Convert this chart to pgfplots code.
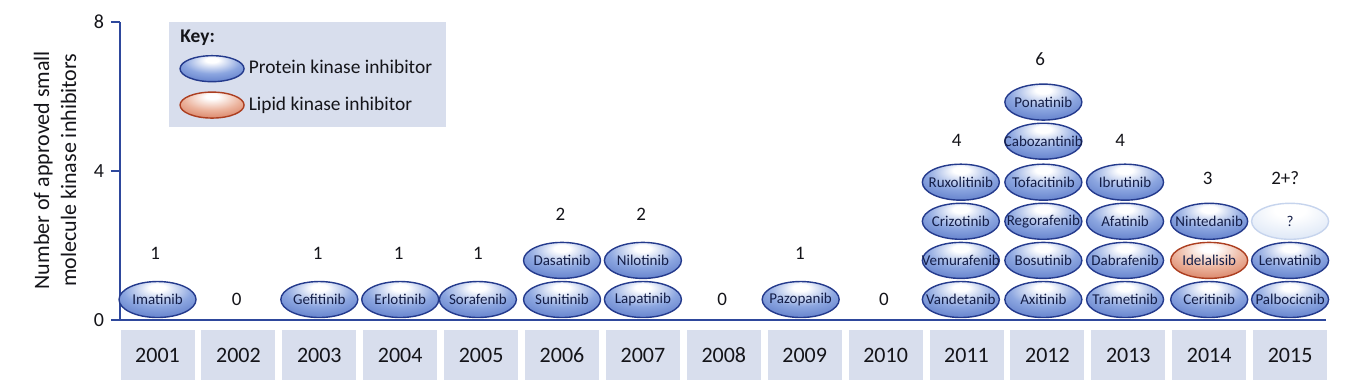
\documentclass[border=0pt]{standalone}
\usepackage{pgfplots}
\pgfplotsset{compat=1.18}
\usepackage{fontspec}
\setmainfont{Carlito}
\usetikzlibrary{shapes.geometric}
\definecolor{keybg}{RGB}{216,222,237}
\definecolor{axblue}{RGB}{46,72,156}
\definecolor{pkmid}{RGB}{140,166,224}
\definecolor{pkedge}{RGB}{68,100,188}
\definecolor{pkdark}{RGB}{44,70,160}
\definecolor{pkborder}{RGB}{36,58,140}
\definecolor{lkmid}{RGB}{236,180,158}
\definecolor{lkedge}{RGB}{204,96,62}
\definecolor{lkdark}{RGB}{184,72,40}
\definecolor{lkborder}{RGB}{172,62,32}
\definecolor{qmid}{RGB}{228,236,248}
\definecolor{qedge}{RGB}{205,219,242}
\definecolor{qborder}{RGB}{198,212,237}
\definecolor{navy}{RGB}{20,30,72}
\definecolor{txt}{RGB}{20,20,25}
\pgfdeclareradialshading{pkshade}{\pgfpoint{0bp}{18bp}}{color(0bp)=(white); color(5bp)=(white); color(22bp)=(pkmid); color(46bp)=(pkedge); color(72bp)=(pkdark)}
\pgfdeclareradialshading{lkshade}{\pgfpoint{0bp}{18bp}}{color(0bp)=(white); color(5bp)=(white); color(22bp)=(lkmid); color(46bp)=(lkedge); color(72bp)=(lkdark)}
\pgfdeclareradialshading{qshade}{\pgfpoint{0bp}{18bp}}{color(0bp)=(white); color(10bp)=(white); color(30bp)=(qmid); color(50bp)=(qedge); color(72bp)=(qedge)}
\tikzset{
  ell/.style={ellipse, shade, minimum width=38.5pt, minimum height=18pt, inner sep=0pt,
    line width=0.7pt, font=\fontsize{7.5}{8}\selectfont, text=navy, anchor=center},
  pknode/.style={ell, shading=pkshade, draw=pkborder},
  lknode/.style={ell, shading=lkshade, draw=lkborder},
  qnode/.style={ell, shading=qshade, draw=qborder},
}
\begin{document}
\begin{tikzpicture}
\begin{axis}[
  name=ax,
  scale only axis,
  width=603pt, height=149pt,
  xmin=-0.464, xmax=14.444,
  ymin=0, ymax=8,
  clip=false,
  axis x line=bottom, axis y line=left,
  axis line style={axblue, line width=1pt, -},
  xtick={0,...,14},
  xticklabels={2001,2002,2003,2004,2005,2006,2007,2008,2009,2010,2011,2012,2013,2014,2015},
  xtick style={draw=none},
  xticklabel style={fill=keybg, minimum width=37pt, minimum height=25pt, inner sep=0pt,
    anchor=north, yshift=-0.5pt, font=\fontsize{11}{12}\selectfont, text=txt},
  ytick={0,4,8},
  yticklabels={0,4,8},
  ytick style={axblue, line width=0.8pt},
  major tick length=4.5pt,
  tick align=outside,
  yticklabel style={font=\fontsize{10}{11}\selectfont, text=txt},
  ylabel={Number of approved small\\molecule kinase inhibitors},
  ylabel style={align=center, font=\fontsize{11}{13.5}\selectfont, text=txt,
    at={(axis description cs:-0.0539,0.503)}, anchor=center},
  legend style={at={(0.0406,1.0)}, anchor=north west, fill=keybg, draw=none,
    font=\fontsize{9.7}{11}\selectfont, text=txt, inner xsep=5pt, inner ysep=4pt,
    row sep=4.5pt, cells={anchor=west}},
  legend cell align=left,
]
\addlegendimage{legend image code/.code={\node[anchor=west, inner sep=0pt, font=\fontsize{9.7}{11}\selectfont\bfseries] at (0pt,0pt) {Key:};}}
\addlegendentry{}

\addplot[only marks, mark=*, mark size=0pt, mark options={draw=none},
  point meta=explicit symbolic,
  nodes near coords={\makebox[0pt]{\pgfplotspointmeta}},
  every node near coord/.append style={pknode},
  legend image code/.code={\path[shade, shading=pkshade, draw=pkborder, line width=0.7pt] (16pt,0pt) ellipse [x radius=16pt, y radius=6.5pt];}]
table[meta=name] {
x y name
0 0.55 Imatinib
2 0.55 Gefitinib
3 0.55 Erlotinib
3.96 0.55 Sorafenib
5 0.55 Sunitinib
5 1.6 Dasatinib
6 0.55 Lapatinib
6 1.6 Nilotinib
7.95 0.55 Pazopanib
9.93 0.55 Vandetanib
9.93 1.6 Vemurafenib
9.93 2.65 Crizotinib
9.93 3.7 Ruxolitinib
10.95 0.55 Axitinib
10.95 1.6 Bosutinib
10.95 2.65 Regorafenib
10.95 3.7 Tofacitinib
10.95 4.8 Cabozantinib
10.95 5.85 Ponatinib
11.96 0.55 Trametinib
11.96 1.6 Dabrafenib
11.96 2.65 Afatinib
11.96 3.7 Ibrutinib
13 0.55 Ceritinib
13 2.65 Nintedanib
14 0.55 Palbocicnib
14 1.6 Lenvatinib
};
\addlegendentry{Protein kinase inhibitor}

\addplot[only marks, mark=*, mark size=0pt, mark options={draw=none},
  point meta=explicit symbolic,
  nodes near coords={\makebox[0pt]{\pgfplotspointmeta}},
  every node near coord/.append style={lknode},
  legend image code/.code={\path[shade, shading=lkshade, draw=lkborder, line width=0.7pt] (16pt,0pt) ellipse [x radius=16pt, y radius=6.5pt];}]
table[meta=name] {
x y name
13 1.6 Idelalisib
};
\addlegendentry{Lipid kinase inhibitor}

\addplot[only marks, mark=*, mark size=0pt, mark options={draw=none}, forget plot,
  point meta=explicit symbolic,
  nodes near coords={\makebox[0pt]{\pgfplotspointmeta}},
  every node near coord/.append style={qnode}]
table[meta=name] {
x y name
14 2.65 ?
};

\addplot[only marks, mark=*, mark size=0pt, mark options={draw=none}, forget plot,
  point meta=explicit symbolic,
  nodes near coords,
  every node near coord/.append style={anchor=center, inner sep=0pt, font=\fontsize{9.5}{10}\selectfont, text=txt}]
table[meta=lab] {
x y lab
-0.03 1.8 1
0.98 0.54 0
1.98 1.8 1
2.98 1.8 1
3.96 1.8 1
4.98 2.83 2
5.98 2.83 2
6.98 0.54 0
7.94 1.8 1
8.98 0.54 0
9.88 4.83 4
10.91 7.0 6
11.9 4.83 4
12.98 3.81 3
13.94 3.81 2+?
};
\end{axis}
\pgfresetboundingbox
\path[use as bounding box] ([shift={(-60pt,-33pt)}]ax.south west) rectangle ([shift={(13.5pt,11pt)}]ax.north east);
\end{tikzpicture}
\end{document}
